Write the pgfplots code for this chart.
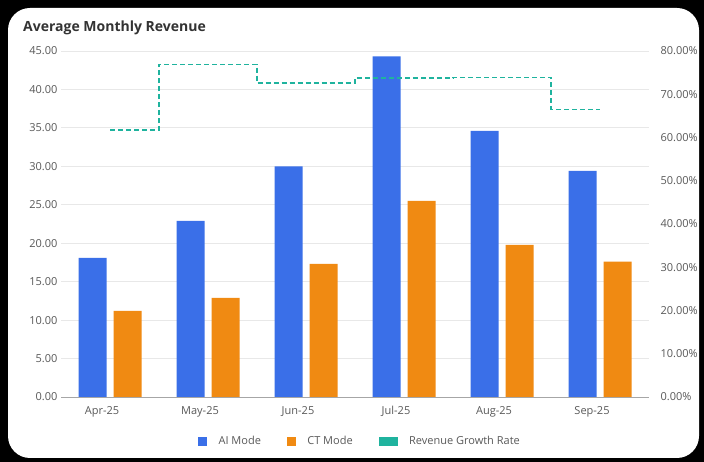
\documentclass[border=0pt]{standalone}
\usepackage{pgfplots}
\pgfplotsset{compat=1.18}
\usepackage{fontspec}
\setmainfont{Open Sans}

\definecolor{aiblue}{HTML}{3A6FE8}
\definecolor{ctorange}{HTML}{F08A12}
\definecolor{growteal}{HTML}{1FB39E}
\definecolor{gridgray}{HTML}{E8E8E8}
\definecolor{axisgray}{HTML}{A6A6A6}
\definecolor{ticktext}{HTML}{595959}
\definecolor{titletext}{HTML}{333333}

\pgfplotsset{
  card axis/.style={
    at={(110pt,65pt)}, anchor=origin,
    scale only axis, width=588pt, height=346pt,
    xmin=-0.5, xmax=5.5,
    major tick length=0pt,
    tick label style={font=\fontsize{11}{13}\selectfont, text=ticktext},
  },
}

\begin{document}
\begin{tikzpicture}
% card background
\fill[black] (0pt,0pt) rectangle (704pt,462pt);
\fill[white, rounded corners=22pt] (8pt,4pt) rectangle (699pt,454pt);
\node[anchor=base west, inner sep=0, text=titletext,
      font=\fontsize{14}{16}\selectfont\bfseries] at (23pt,430pt) {Average Monthly Revenue};

% revenue bars, left axis
\begin{axis}[card axis,
    ymin=0, ymax=45,
    ytick={0,5,...,45},
    yticklabel style={/pgf/number format/.cd, fixed, fixed zerofill, precision=2, assume math mode=true},
    xtick={0,...,5},
    xticklabels={Apr-25,May-25,Jun-25,Jul-25,Aug-25,Sep-25},
    xticklabel style={xshift=-8pt, yshift=-6pt},
    axis x line*=bottom, axis y line*=left,
    x axis line style={draw=axisgray, -},
    y axis line style={draw=none},
    ymajorgrids, grid style={gridgray, line width=0.8pt},
    ybar=7pt, bar width=28pt,
  ]
  \addplot[fill=aiblue, draw=none] coordinates {
    (0,18.1) (1,22.9) (2,30.0) (3,44.3) (4,34.6) (5,29.4)
  };
  \addplot[fill=ctorange, draw=none] coordinates {
    (0,11.2) (1,12.9) (2,17.3) (3,25.5) (4,19.8) (5,17.6)
  };
\end{axis}

% growth rate, right axis
\begin{axis}[card axis,
    ymin=0, ymax=80,
    ytick={0,10,...,80},
    yticklabel={\pgfmathprintnumber[fixed, fixed zerofill, precision=2, assume math mode=true]{\tick}\%},
    yticklabel style={xshift=8pt},
    axis y line*=right, axis x line=none,
    y axis line style={draw=none},
    legend columns=3,
    legend style={at={(0.5085,-0.127)}, anchor=center, draw=none, fill=none,
      font=\fontsize{11}{13}\selectfont, text=ticktext,
      /tikz/every odd column/.append style={column sep=10pt},
      /tikz/every even column/.append style={column sep=24pt}},
  ]
  \addlegendimage{legend image code/.code={\fill[aiblue] (0pt,-4pt) rectangle (8pt,4pt);}}
  \addlegendentry{AI Mode}
  \addlegendimage{legend image code/.code={\fill[ctorange] (0pt,-4pt) rectangle (8pt,4pt);}}
  \addlegendentry{CT Mode}
  \addlegendimage{legend image code/.code={\fill[growteal] (0pt,-4pt) rectangle (18pt,4pt);}}
  \addlegendentry{Revenue Growth Rate}
  \addplot[forget plot, const plot mark mid, growteal, line width=1.5pt,
           dash pattern=on 5pt off 3pt] coordinates {
    (0,61.7) (1,76.9) (2,72.6) (3,73.7) (4,73.9) (5,66.5)
  };
\end{axis}
\end{tikzpicture}
\end{document}
